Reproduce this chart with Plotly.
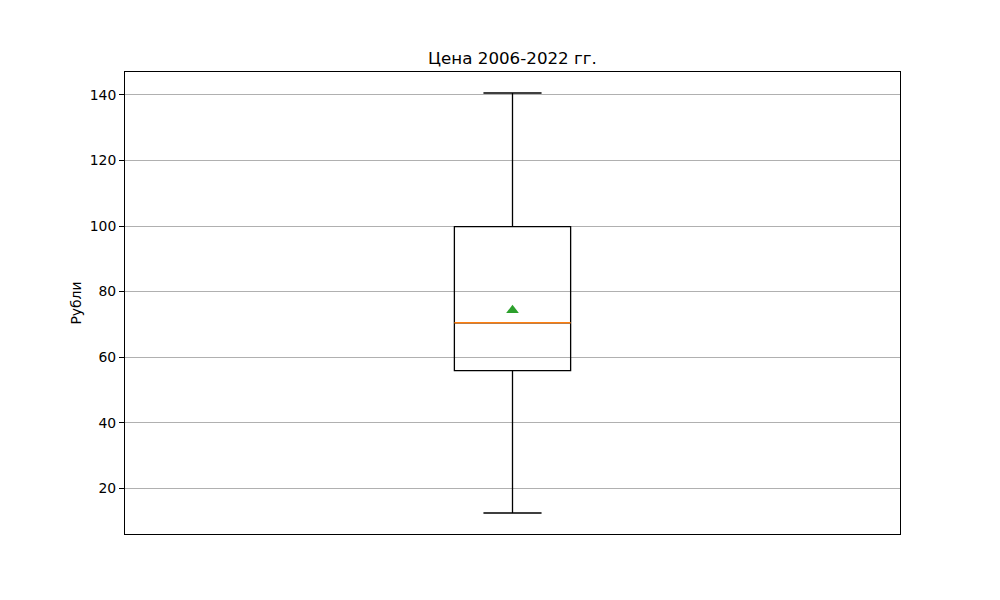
import plotly.graph_objects as go

# Summary statistics (Рубли)
positions = [1]
q1_vals = [55.9]
median_vals = [70.5]
q3_vals = [99.8]
lower_whisker = [12.45]
upper_whisker = [140.6]
mean_vals = [74.3]

title_text = "Цена 2006-2022 гг."
y_label = "Рубли"
y_ticks = [20, 40, 60, 80, 100, 120, 140]

box_width = 0.15
font_family = "DejaVu Sans"

fig = go.Figure()

fig.add_trace(go.Box(
    x=positions,
    q1=q1_vals,
    median=median_vals,
    q3=q3_vals,
    lowerfence=lower_whisker,
    upperfence=upper_whisker,
    width=box_width,
    whiskerwidth=0.5,
    line=dict(color="black", width=1.3),
    fillcolor="rgba(0,0,0,0)",
    boxpoints=False,
    showlegend=False,
    hoverinfo="skip",
))

# orange median line
for p, m in zip(positions, median_vals):
    fig.add_trace(go.Scatter(
        x=[p - box_width / 2, p + box_width / 2],
        y=[m, m],
        mode="lines",
        line=dict(color="#ff7f0e", width=1.4),
        showlegend=False,
        hoverinfo="skip",
    ))

# green mean marker
fig.add_trace(go.Scatter(
    x=positions,
    y=mean_vals,
    mode="markers",
    marker=dict(symbol="triangle-up", color="#2ca02c", size=11, line=dict(width=0)),
    showlegend=False,
    hoverinfo="skip",
))

ymin = min(lower_whisker)
ymax = max(upper_whisker)
pad = 0.05 * (ymax - ymin)

fig.update_layout(
    width=1000,
    height=600,
    paper_bgcolor="white",
    plot_bgcolor="white",
    margin=dict(l=125, r=100, t=72, b=66),
    font=dict(family=font_family, color="black", size=13.9),
    title=dict(
        text=title_text,
        x=(125 + 900) / 2 / 1000,
        xanchor="center",
        y=1 - 58 / 600,
        yanchor="middle",
        font=dict(size=16.7, family=font_family, color="black"),
    ),
    xaxis=dict(
        range=[0.5, 1.5],
        showticklabels=False,
        ticks="",
        showgrid=False,
        zeroline=False,
        showline=True,
        mirror=True,
        linecolor="black",
        linewidth=1,
    ),
    yaxis=dict(
        range=[ymin - pad, ymax + pad],
        tickvals=y_ticks,
        ticks="outside",
        ticklen=5,
        tickwidth=1,
        tickcolor="black",
        showgrid=True,
        gridcolor="#b0b0b0",
        gridwidth=1,
        zeroline=False,
        showline=True,
        mirror=True,
        linecolor="black",
        linewidth=1,
        title=dict(text=y_label, font=dict(size=13.9, family=font_family), standoff=4),
        tickfont=dict(size=13.9, family=font_family),
    ),
)

fig.write_html("out.html")
